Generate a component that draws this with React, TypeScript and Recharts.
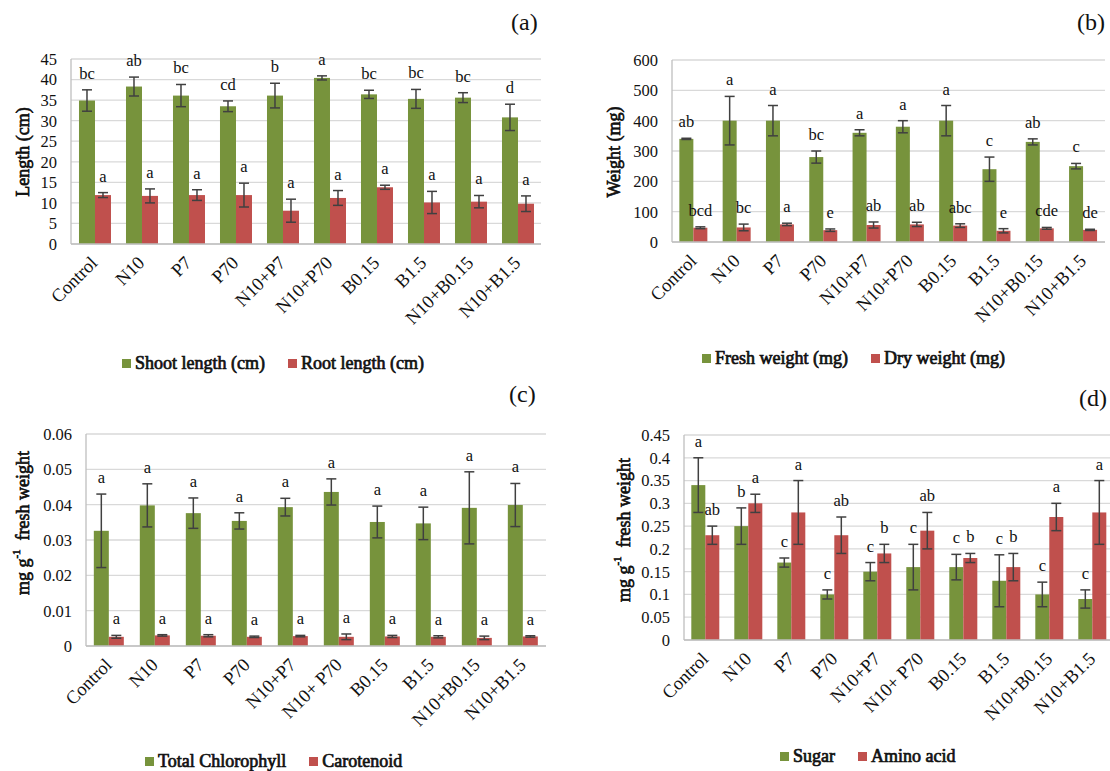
import { BarChart, Bar, XAxis, YAxis, CartesianGrid, ErrorBar, Legend } from "recharts";

const SERIF = '"Times New Roman", "DejaVu Serif", serif';
const GREEN = "#77933C";
const RED = "#C0504D";
const ERR = "#404040";
const GRID = "#d9d9d9";
const INK = "#111";

const treatments = ["Control", "N10", "P7", "P70", "N10+P7", "N10+P70", "B0.15", "B1.5", "N10+B0.15", "N10+B1.5"];
const treatmentsCD = ["Control", "N10", "P7", "P70", "N10+P7", "N10+ P70", "B0.15", "B1.5", "N10+B0.15", "N10+B1.5"];

// (a) length
const shootLength = [34.9, 38.3, 36.1, 33.5, 36.1, 40.4, 36.4, 35.3, 35.6, 30.8];
const shootLengthErr = [2.6, 2.3, 2.7, 1.3, 3.0, 0.5, 1.0, 2.3, 1.2, 3.2];
const shootLengthSig = ["bc", "ab", "bc", "cd", "b", "a", "bc", "bc", "bc", "d"];
const rootLength = [11.9, 11.7, 11.9, 11.9, 8.1, 11.2, 13.8, 10.1, 10.3, 9.8];
const rootLengthErr = [0.6, 1.7, 1.3, 2.9, 2.8, 1.8, 0.5, 2.7, 1.5, 1.9];
const rootLengthSig = ["a", "a", "a", "a", "a", "a", "a", "a", "a", "a"];
const lengthTicks = [0, 5, 10, 15, 20, 25, 30, 35, 40, 45];

// (b) weight
const freshWeight = [340, 400, 400, 280, 360, 380, 400, 240, 330, 250];
const freshWeightErr = [2, 80, 50, 20, 10, 20, 50, 40, 10, 9];
const freshWeightSig = ["ab", "a", "a", "bc", "a", "a", "a", "c", "ab", "c"];
const dryWeight = [47, 48, 58, 39, 56, 58, 54, 37, 45, 40];
const dryWeightErr = [3, 11, 4, 4, 10, 7, 6, 7, 3, 2];
const dryWeightSig = ["bcd", "bc", "a", "e", "ab", "ab", "abc", "e", "cde", "de"];
const weightTicks = [0, 100, 200, 300, 400, 500, 600];

// (c) pigments
const chlorophyll = [0.0326, 0.0398, 0.0376, 0.0354, 0.0393, 0.0436, 0.0351, 0.0347, 0.0391, 0.0399];
const chlorophyllErr = [0.0104, 0.0061, 0.0043, 0.0023, 0.0025, 0.0037, 0.0045, 0.0046, 0.0102, 0.0061];
const chlorophyllSig = ["a", "a", "a", "a", "a", "a", "a", "a", "a", "a"];
const carotenoid = [0.0026, 0.003, 0.0029, 0.0026, 0.0028, 0.0026, 0.0027, 0.0026, 0.0023, 0.0027];
const carotenoidErr = [0.0004, 0.0002, 0.0003, 0.0002, 0.0002, 0.0008, 0.0003, 0.0003, 0.0005, 0.0002];
const carotenoidSig = ["a", "a", "a", "a", "a", "a", "a", "a", "a", "a"];
const pigmentTicks = [0, 0.01, 0.02, 0.03, 0.04, 0.05, 0.06];

// (d) sugar / amino acid
const sugar = [0.34, 0.25, 0.17, 0.1, 0.15, 0.16, 0.16, 0.13, 0.1, 0.09];
const sugarErr = [0.06, 0.04, 0.01, 0.01, 0.02, 0.05, 0.028, 0.057, 0.027, 0.02];
const sugarSig = ["a", "b", "c", "c", "c", "c", "c", "c", "c", "c"];
const aminoAcid = [0.23, 0.3, 0.28, 0.23, 0.19, 0.24, 0.18, 0.16, 0.27, 0.28];
const aminoAcidErr = [0.02, 0.02, 0.07, 0.04, 0.02, 0.04, 0.01, 0.03, 0.03, 0.07];
const aminoAcidSig = ["ab", "a", "a", "ab", "b", "ab", "b", "b", "a", "a"];
const solubleTicks = [0, 0.05, 0.1, 0.15, 0.2, 0.25, 0.3, 0.35, 0.4, 0.45];

const makeRows = (cats, a, aErr, aSig, b, bErr, bSig) =>
  cats.map((name, i) => ({ name, a: a[i], aErr: aErr[i], aSig: aSig[i], b: b[i], bErr: bErr[i], bSig: bSig[i] }));

const fmt = (v) => String(+Number(v).toFixed(3));

// bar with its significance letter just above the error bar
const sigShape = (valKey, errKey, sigKey, color) => (props) => {
  const { x, y, width, height, payload } = props;
  const v = payload[valKey];
  const k = v ? height / v : 0;
  const top = y - payload[errKey] * k;
  return (
    <g>
      <rect x={x} y={y} width={width} height={height} fill={color} />
      <text x={x + width / 2} y={top - 11} textAnchor="middle" fontSize={16.5} fontFamily={SERIF} fill={INK}>
        {payload[sigKey]}
      </text>
    </g>
  );
};

const CatTick = ({ x, y, payload }) => {
  const ax = x + 4;
  const ay = y + 20;
  return (
    <text x={ax} y={ay} textAnchor="end" transform={`rotate(-45 ${ax} ${ay})`} fontSize={18.5} fontFamily={SERIF} fill={INK}>
      {payload.value}
    </text>
  );
};

// bold serif drawn as regular serif with a thin outline
const YTitle = ({ x, y, children }) => (
  <text
    x={x}
    y={y}
    transform={`rotate(-90 ${x} ${y})`}
    textAnchor="middle"
    dominantBaseline="central"
    fontSize={18}
    fontFamily={SERIF}
    fill={INK}
    stroke={INK}
    strokeWidth={0.7}
    style={{ whiteSpace: "pre" }}
  >
    {children}
  </text>
);

const PerG = () => (
  <>
    <tspan>mg g</tspan>
    <tspan dy={-7} fontSize={11}>-1</tspan>
    <tspan dy={7}>{"  fresh weight"}</tspan>
  </>
);

const LegendRow = ({ items }) => (
  <div
    style={{
      display: "flex",
      alignItems: "center",
      fontFamily: SERIF,
      fontSize: 18,
      color: INK,
      WebkitTextStroke: "0.7px #111",
      whiteSpace: "nowrap",
      lineHeight: "20px",
    }}
  >
    {items.map((it) => (
      <span key={it.label} style={{ display: "flex", alignItems: "center", marginRight: 23 }}>
        <span style={{ display: "inline-block", width: 9, height: 9, background: it.color, marginRight: 4 }} />
        {it.label}
      </span>
    ))}
  </div>
);

function Panel({ rows, width, height, margin, yWidth, ticks, title, titlePos, legend, legendPos, tag, tagPos, pos }) {
  return (
    <div style={{ position: "absolute", left: pos[0], top: pos[1], width, height }}>
      <BarChart width={width} height={height} data={rows} margin={margin} barCategoryGap="17%" barGap={0}>
        <CartesianGrid vertical={false} stroke={GRID} strokeWidth={1.3} />
        <XAxis
          dataKey="name"
          height={100}
          interval={0}
          tickLine={false}
          tickSize={0}
          tickMargin={0}
          axisLine={{ stroke: "#bfbfbf", strokeWidth: 1.3 }}
          tick={<CatTick />}
        />
        <YAxis
          width={yWidth}
          domain={[0, ticks[ticks.length - 1]]}
          ticks={ticks}
          interval={0}
          tickLine={false}
          tickSize={0}
          tickMargin={14}
          tickFormatter={fmt}
          axisLine={{ stroke: "#bfbfbf", strokeWidth: 1.3 }}
          tick={{ fontSize: 16.5, fontFamily: SERIF, fill: INK }}
          label={{ content: () => <YTitle x={titlePos[0]} y={titlePos[1]}>{title}</YTitle> }}
        />
        <Legend
          verticalAlign="middle"
          align="center"
          layout="horizontal"
          wrapperStyle={{ left: legendPos[0], top: legendPos[1], width: 460 }}
          content={() => <LegendRow items={legend} />}
        />
        <Bar dataKey="a" fill={GREEN} isAnimationActive={false} shape={sigShape("a", "aErr", "aSig", GREEN)}>
          <ErrorBar dataKey="aErr" width={5} stroke={ERR} strokeWidth={1.5} direction="y" />
        </Bar>
        <Bar dataKey="b" fill={RED} isAnimationActive={false} shape={sigShape("b", "bErr", "bSig", RED)}>
          <ErrorBar dataKey="bErr" width={5} stroke={ERR} strokeWidth={1.5} direction="y" />
        </Bar>
      </BarChart>
      <div style={{ position: "absolute", left: tagPos[0], top: tagPos[1], fontFamily: SERIF, fontSize: 24, color: INK, lineHeight: "27px" }}>
        {tag}
      </div>
    </div>
  );
}

export default function App() {
  const lengthRows = makeRows(treatments, shootLength, shootLengthErr, shootLengthSig, rootLength, rootLengthErr, rootLengthSig);
  const weightRows = makeRows(treatments, freshWeight, freshWeightErr, freshWeightSig, dryWeight, dryWeightErr, dryWeightSig);
  const pigmentRows = makeRows(treatmentsCD, chlorophyll, chlorophyllErr, chlorophyllSig, carotenoid, carotenoidErr, carotenoidSig);
  const solubleRows = makeRows(treatmentsCD, sugar, sugarErr, sugarSig, aminoAcid, aminoAcidErr, aminoAcidSig);

  return (
    <div style={{ position: "absolute", left: 0, top: 0, width: 1110, height: 771, overflow: "hidden", background: "#fff" }}>
      <Panel
        rows={lengthRows}
        pos={[0, 0]}
        width={555}
        height={385}
        margin={{ top: 59, right: 14, left: 0, bottom: 41 }}
        yWidth={71}
        ticks={lengthTicks}
        title="Length (cm)"
        titlePos={[23, 152]}
        legend={[{ label: "Shoot length (cm)", color: GREEN }, { label: "Root length (cm)", color: RED }]}
        legendPos={[122, 353]}
        tag="(a)"
        tagPos={[511, 9]}
      />
      <Panel
        rows={weightRows}
        pos={[555, 0]}
        width={555}
        height={385}
        margin={{ top: 60, right: 5, left: 0, bottom: 43 }}
        yWidth={117}
        ticks={weightTicks}
        title="Weight (mg)"
        titlePos={[59, 152]}
        legend={[{ label: "Fresh weight (mg)", color: GREEN }, { label: "Dry weight (mg)", color: RED }]}
        legendPos={[147, 348]}
        tag="(b)"
        tagPos={[522, 9]}
      />
      <Panel
        rows={pigmentRows}
        pos={[0, 385]}
        width={555}
        height={386}
        margin={{ top: 49, right: 9, left: 0, bottom: 25 }}
        yWidth={86}
        ticks={pigmentTicks}
        title={<PerG />}
        titlePos={[23, 138]}
        legend={[{ label: "Total Chlorophyll", color: GREEN }, { label: "Carotenoid", color: RED }]}
        legendPos={[145, 366]}
        tag="(c)"
        tagPos={[509, -4]}
      />
      <Panel
        rows={solubleRows}
        pos={[555, 385]}
        width={560}
        height={386}
        margin={{ top: 50, right: 1, left: 0, bottom: 31 }}
        yWidth={129}
        ticks={solubleTicks}
        title={<PerG />}
        titlePos={[69, 145]}
        legend={[{ label: "Sugar", color: GREEN }, { label: "Amino acid", color: RED }]}
        legendPos={[225, 361]}
        tag="(d)"
        tagPos={[524, 0]}
      />
    </div>
  );
}
